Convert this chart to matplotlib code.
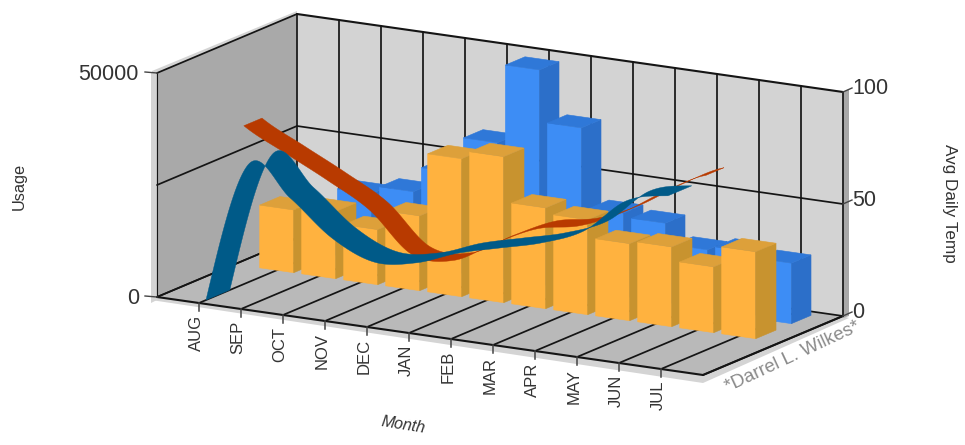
import numpy as np
import matplotlib
matplotlib.use("Agg")
import matplotlib.pyplot as plt
from matplotlib.patches import Polygon

plt.rcParams['font.family'] = ['Liberation Sans', 'DejaVu Sans']

months = ["AUG", "SEP", "OCT", "NOV", "DEC", "JAN", "FEB", "MAR", "APR", "MAY", "JUN", "JUL"]
usage_front = [14000, 15000, 12300, 16700, 30800, 32600, 22500, 21200, 17200, 17800, 14700, 19400]
usage_back = [8000, 15600, 17400, 23000, 31000, 48600, 37000, 19300, 18400, 13800, 14700, 13500]
temp_red = [70.7, 61, 51.6, 41, 24, 24, 34.5, 43.5, 47.5, 56, 68, 78]
temp_blue = [0, 63, 51, 35.7, 27.7, 30, 37, 42, 47, 55, 71, 76]

# oblique projection, in pixels of the 965x445 picture
X0, Y0 = 157, 297
MX, MY = 42, 6      # one month along the floor
DX, DY = 140, -59   # full depth of the floor
H = 224             # full height of the walls
N = len(months) + 1


def proj(m, d, frac):
    m, d, frac = np.asarray(m), np.asarray(d), np.asarray(frac)
    return X0 + MX * m + DX * d, Y0 + MY * m + DY * d - H * frac


def quad(ax, corners, color, z):
    pts = [proj(*c) for c in corners]
    ax.add_patch(Polygon(pts, closed=True, fc=color, ec=color, lw=0.4, zorder=z))


def line3(ax, a, b, color="#151515", lw=1.3, z=2):
    xa, ya = proj(*a)
    xb, yb = proj(*b)
    ax.plot([xa, xb], [ya, yb], color=color, lw=lw, zorder=z, solid_capstyle="round")


def bar(ax, m, d0, d1, frac, front, side, top, z):
    w = 0.405
    quad(ax, [(m - w, d0, 0), (m + w, d0, 0), (m + w, d0, frac), (m - w, d0, frac)], front, z)
    quad(ax, [(m + w, d0, 0), (m + w, d1, 0), (m + w, d1, frac), (m + w, d0, frac)], side, z)
    quad(ax, [(m - w, d0, frac), (m + w, d0, frac), (m + w, d1, frac), (m - w, d1, frac)], top, z)


def smooth(values):
    # Catmull-Rom through the monthly points, steeper at the first one
    v = np.array(values, dtype=float)
    g = np.zeros(len(v))
    g[1:-1] = (v[2:] - v[:-2]) / 2
    g[0] = 1.3 * (v[1] - v[0])
    g[-1] = 0.6 * (v[-1] - v[-2])
    ms, vs = [], []
    for i in range(len(v) - 1):
        t = np.linspace(0, 1, 30)
        p = ((2 * t ** 3 - 3 * t ** 2 + 1) * v[i] + (t ** 3 - 2 * t ** 2 + t) * g[i]
             + (-2 * t ** 3 + 3 * t ** 2) * v[i + 1] + (t ** 3 - t ** 2) * g[i + 1])
        ms.append(i + 1 + t)
        vs.append(p)
    return np.concatenate(ms), np.concatenate(vs)


def ribbon(ax, values, d0, d1, color, z):
    m, v = smooth(values)
    xa, ya = proj(m, d0, v / 100)
    xb, yb = proj(m, d1, v / 100)
    pts = np.column_stack([np.r_[xa, xb[::-1]], np.r_[ya, yb[::-1]]])
    ax.add_patch(Polygon(pts, closed=True, fc=color, ec=color, lw=0.3, zorder=z))


fig = plt.figure(figsize=(9.65, 4.45), dpi=100)
ax = fig.add_axes([0, 0, 1, 1])
ax.set_xlim(0, 965)
ax.set_ylim(445, 0)
ax.axis("off")

# wall thickness
ax.add_patch(Polygon([(152, 73), (157, 73), (297, 14), (297, 11), (152, 71)], fc="#d4d4d4", ec="none", zorder=0))
ax.add_patch(Polygon([(151, 72), (157, 72), (157, 300), (151, 303)], fc="#d4d4d4", ec="none", zorder=0))
ax.add_patch(Polygon([(151, 300), (157, 297), (701, 375), (843, 316), (849, 318), (703, 383)],
                     fc="#d4d4d4", ec="none", zorder=0))
ax.add_patch(Polygon([(843, 92), (849, 89), (849, 316), (843, 318)], fc="#a8a8a8", ec="none", zorder=0))

# walls and floor
quad(ax, [(0, 0, 0), (0, 1, 0), (0, 1, 1), (0, 0, 1)], "#a9a9a9", 1)
quad(ax, [(0, 1, 0), (N, 1, 0), (N, 1, 1), (0, 1, 1)], "#d3d3d3", 1)
quad(ax, [(0, 0, 0), (N, 0, 0), (N, 1, 0), (0, 1, 0)], "#b9b9b9", 1)

for m in range(N + 1):
    line3(ax, (m, 1, 0), (m, 1, 1), lw=1.25)
    line3(ax, (m, 0, 0), (m, 1, 0), lw=1.25)
for frac in [0, 0.5, 1]:
    line3(ax, (0, 0, frac), (0, 1, frac), lw=1.25)
    line3(ax, (0, 1, frac), (N, 1, frac), lw=1.5 if frac == 1 else 1.25)
line3(ax, (0, 0, 0), (N, 0, 0), lw=1.5)
line3(ax, (N, 0, 0), (N, 1, 0), lw=1.5)
line3(ax, (0, 0, 0), (0, 0, 1), lw=0.8)

# bars, back row first
for i, val in enumerate(usage_back):
    bar(ax, i + 1, 0.81, 0.95, val / 50000, "#3d8df5", "#2c6fc9", "#2f78d8", 3 + i * 0.01)
for i, val in enumerate(usage_front):
    bar(ax, i + 1, 0.555, 0.70, val / 50000, "#ffb23f", "#c8932f", "#dda03a", 4 + i * 0.01)

ribbon(ax, temp_red, 0.32, 0.45, "#b83a00", 5)
ribbon(ax, temp_blue, 0.05, 0.22, "#005a88", 6)

# axes labels
tick_c = "#444444"
for i, name in enumerate(months):
    x, y = proj(i + 1, 0, 0)
    ax.plot([x, x], [y, y + 8], color=tick_c, lw=1.1, zorder=2)
    ax.text(x - 3, y + 12, name, rotation=90, ha="center", va="top", fontsize=12, color="#333333")

for val, frac in [(50000, 1), (0, 0)]:
    x, y = proj(0, 0, frac)
    ax.plot([x - 12, x], [y - 1, y], color=tick_c, lw=1.0, zorder=2)
    ax.text(x - 18, y + 1, str(val), ha="right", va="center", fontsize=15.5, color="#333333")

for val, frac in [(100, 1), (50, 0.5), (0, 0)]:
    x, y = proj(N, 1, frac)
    ax.plot([x, x + 9], [y, y - 4], color=tick_c, lw=1.0, zorder=2)
    ax.text(x + 9, y - 3, str(val), ha="left", va="center", fontsize=15.5, color="#333333")

ax.text(19, 186, "Usage", rotation=90, ha="center", va="center", fontsize=11.8, color="#333333")
ax.text(950, 203, "Avg Daily Temp", rotation=270, ha="center", va="center", fontsize=12.3, color="#333333")
ax.text(403, 425, "Month", rotation=-9, ha="center", va="center", fontsize=11.5, style="italic", color="#333333")
ax.text(793, 357, "*Darrel L. Wilkes*", rotation=25, ha="center", va="center", fontsize=13.5,
        color="#8a8a8a")

fig.savefig("out.png", dpi=100)
